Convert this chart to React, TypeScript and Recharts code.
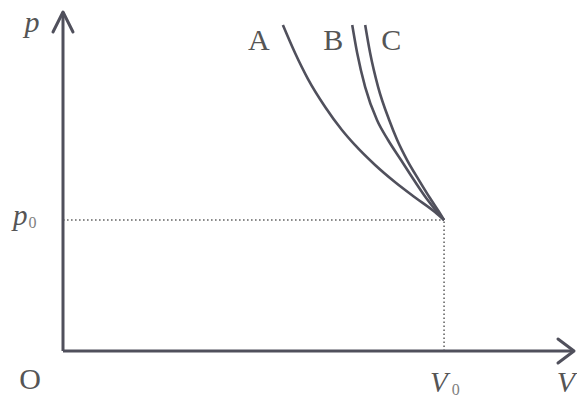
import React from "react";
import {
  LineChart,
  Line,
  XAxis,
  YAxis,
  ReferenceLine,
  ReferenceDot,
} from "recharts";

// p-V diagram, units chosen so that V0 = 1 and p0 = 1
const V_MAX = 1.341;
const P_MAX = 2.588;
const V0 = 1;
const P0 = 1;

const V_A = [0.577, 0.609, 0.643, 0.688, 0.732, 0.766, 0.819, 0.871, 0.924, 0.976, 1];
const P_A = [2.489, 2.275, 2.076, 1.863, 1.687, 1.573, 1.42, 1.29, 1.172, 1.061, 1];

const V_B = [0.759, 0.772, 0.793, 0.824, 0.853, 0.887, 0.921, 0.953, 0.982, 1];
const P_B = [2.489, 2.275, 2.015, 1.763, 1.611, 1.458, 1.305, 1.168, 1.061, 1];

const V_C = [0.793, 0.806, 0.827, 0.856, 0.877, 0.903, 0.934, 0.963, 0.987, 1];
const P_C = [2.489, 2.275, 2.015, 1.763, 1.611, 1.458, 1.305, 1.168, 1.061, 1];

const CURVE_NAMES = ["A", "B", "C"];

const zip = (vs: number[], ps: number[]) => vs.map((v, i) => ({ v, p: ps[i] }));
const curves = [zip(V_A, P_A), zip(V_B, P_B), zip(V_C, P_C)];

const INK = "#50505c";
const TEXT = "#555555";
const FONT = "'Liberation Serif', 'Times New Roman', serif";

const upArrow = (props: any) => {
  const { cx, cy } = props;
  return (
    <polyline
      points={`${cx - 10},${cy + 20} ${cx},${cy} ${cx + 10},${cy + 20}`}
      fill="none"
      stroke={INK}
      strokeWidth={3}
      strokeLinejoin="round"
      strokeLinecap="round"
    />
  );
};

const rightArrow = (props: any) => {
  const { cx, cy } = props;
  return (
    <polyline
      points={`${cx - 16},${cy - 12} ${cx},${cy} ${cx - 16},${cy + 12}`}
      fill="none"
      stroke={INK}
      strokeWidth={3}
      strokeLinejoin="round"
      strokeLinecap="round"
    />
  );
};

const textAt = (label: string, dx: number, dy: number, italic: boolean) => (props: any) => {
  const { cx, cy } = props;
  return (
    <text
      x={cx + dx}
      y={cy + dy}
      textAnchor="middle"
      fontFamily={FONT}
      fontStyle={italic ? "italic" : "normal"}
      fontSize={30}
      fill={TEXT}
    >
      {label}
    </text>
  );
};

// "p0" / "V0" style label: italic letter with a small upright subscript 0
const subLabel = (letter: string, dx: number, dy: number, subDx: number, subDy: number) => (props: any) => {
  const { cx, cy } = props;
  return (
    <text x={cx + dx} y={cy + dy} fontFamily={FONT} fill={TEXT} fontSize={29}>
      <tspan fontStyle="italic">{letter}</tspan>
      <tspan fontSize={16} fill="#808080" dx={subDx} dy={subDy}>0</tspan>
    </text>
  );
};

// label offsets from the top end of each curve
const LABEL_DX = [-24, -19, 26];

const dotted = { stroke: "#666", strokeWidth: 1.6, strokeDasharray: "1.6 2.4" };

export default function App() {
  return (
    <div style={{ position: "absolute", left: 0, top: 0, background: "#fff" }}>
      <LineChart width={577} height={403} margin={{ top: 12, right: 3, bottom: 52, left: 63 }}>
        <XAxis type="number" dataKey="v" domain={[0, V_MAX]} hide allowDataOverflow />
        <YAxis type="number" dataKey="p" domain={[0, P_MAX]} hide allowDataOverflow />
        <ReferenceLine segment={[{ x: 0, y: P0 }, { x: V0, y: P0 }]} {...dotted} />
        <ReferenceLine segment={[{ x: V0, y: 0 }, { x: V0, y: P0 }]} {...dotted} />
        {/* axes */}
        <ReferenceLine
          segment={[{ x: 0, y: 0 }, { x: V_MAX, y: 0 }]}
          stroke={INK}
          strokeWidth={3}
          ifOverflow="visible"
        />
        <ReferenceLine
          segment={[{ x: 0, y: 0 }, { x: 0, y: P_MAX }]}
          stroke={INK}
          strokeWidth={3}
          ifOverflow="visible"
        />
        {curves.map((d, i) => (
          <Line
            key={CURVE_NAMES[i]}
            data={d}
            dataKey="p"
            type="monotone"
            stroke={INK}
            strokeWidth={2.6}
            dot={false}
            isAnimationActive={false}
          />
        ))}
        {curves.map((d, i) => (
          <ReferenceDot
            key={`lbl-${CURVE_NAMES[i]}`}
            x={d[0].v}
            y={d[0].p}
            ifOverflow="visible"
            shape={textAt(CURVE_NAMES[i], LABEL_DX[i], 25, false)}
          />
        ))}
        <ReferenceDot x={0} y={P_MAX} ifOverflow="visible" shape={upArrow} />
        <ReferenceDot x={V_MAX} y={0} ifOverflow="visible" shape={rightArrow} />
        <ReferenceDot x={0} y={P_MAX} ifOverflow="visible" shape={textAt("p", -31, 20, true)} />
        <ReferenceDot x={0} y={P0} ifOverflow="visible" shape={subLabel("p", -50, 5, 1, 3)} />
        <ReferenceDot x={V0} y={0} ifOverflow="visible" shape={subLabel("V", -14, 41, 4, 3)} />
        <ReferenceDot x={0} y={0} ifOverflow="visible" shape={textAt("O", -33, 38, false)} />
        <ReferenceDot x={V_MAX} y={0} ifOverflow="visible" shape={textAt("V", -8, 41, true)} />
      </LineChart>
    </div>
  );
}
